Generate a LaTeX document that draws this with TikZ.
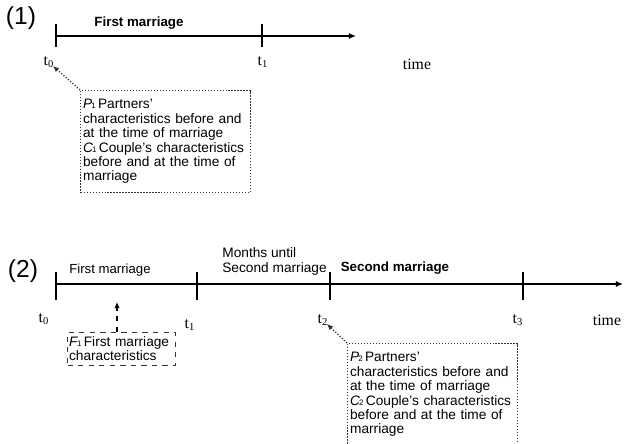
\documentclass[tikz,border=0pt]{standalone}
\usepackage{fontspec}
\setmainfont{Liberation Serif}
\setsansfont{Liberation Sans}
\usetikzlibrary{arrows.meta,positioning,calc}
\newcommand{\tsub}[1]{\textsubscript{#1}}
\newcommand{\vname}[2]{\textit{#1}\kern-0.5pt{\fontsize{4.5}{4.5}\selectfont#2}\,}

\begin{document}
\begin{tikzpicture}[
    x=0.02cm, y=-0.02cm,
    every node/.style={font=\sffamily\fontsize{7.5}{8}\selectfont, inner sep=0pt},
    panel/.style={font=\sffamily\fontsize{14}{16}\selectfont},
    period/.style={font=\sffamily\bfseries\fontsize{7.6}{8}\selectfont},
    tlabel/.style={font=\rmfamily\fontsize{9}{10}\selectfont},
    axis/.style={line width=0.8pt, -{Latex[length=4pt,width=3.5pt]}},
    tick/.style={line width=0.6pt},
    note/.style={draw=black!80, densely dotted, line width=0.7pt, align=left, text width=3.3cm,
                 inner xsep=0.05cm, inner ysep=5pt, anchor=north west,
                 font=\sffamily\fontsize{7.8}{8.2}\selectfont},
    fnote/.style={draw=black!80, dashed, line width=0.6pt, align=left, text width=2.1cm,
                  inner xsep=0.03cm, inner ysep=2.5pt, anchor=north west,
                  font=\sffamily\fontsize{7.8}{8}\selectfont},
    pointer/.style={densely dotted, line width=0.7pt, draw=black!80, -{Latex[length=3.5pt,width=3pt]}},
    fpointer/.style={dashed, line width=0.6pt, -{Latex[length=3.5pt,width=3pt]}}
]
\useasboundingbox (0,0) rectangle (625,443);

% (1) first marriage only
\node[panel] (p1) at (21,18) {(1)};
\coordinate (a1s) at (56,36);
\coordinate (a1t) at (262,36);
\coordinate (a1e) at (356,36);
\draw[axis] (a1s) -- (a1e);
\foreach \c in {a1s,a1t}
  \draw[tick] ($(\c)+(0,-12)$) -- ($(\c)+(0,11)$);
\node[period] (fm1) at (139,23) {First marriage};
\node[tlabel] (t0a) at (49,62) {t\tsub{0}};
\node[tlabel] (t1a) at (263,62) {t\tsub{1}};
\node[tlabel] (time1) at (417,64) {time};

\node[note] (pc1) at (80,90) {\vname{P}{1}Partners'\\
  characteristics before and\\
  at the time of marriage\\
  \vname{C}{1}Couple's characteristics\\
  before and at the time of\\
  marriage};
\draw[pointer] (pc1.north west) -- ([xshift=-1pt,yshift=1pt]t0a.south east);

% (2) first and second marriage
\node[panel] (p2) at (23,271) {(2)};
\coordinate (b0) at (56,284);
\coordinate (b1) at (197,284);
\coordinate (b2) at (330,284);
\coordinate (b3) at (523,284);
\coordinate (be) at (623,284);
\draw[axis] (b0) -- (be);
\foreach \c in {b0,b1,b2,b3}
  \draw[tick] ($(\c)+(0,-12)$) -- ($(\c)+(0,16)$);

\node (fm2) at (110,270) {First marriage};
\node[anchor=west, align=left, font=\sffamily\fontsize{7.8}{8.5}\selectfont] (gap) at (222,261) {Months until\\Second marriage};
\node[period] (sm2) at (395,268) {Second marriage};

\node[tlabel] (t0b) at (44,319) {t\tsub{0}};
\node[tlabel] (t1b) at (190,325) {t\tsub{1}};
\node[tlabel] (t2b) at (323,320) {t\tsub{2}};
\node[tlabel] (t3b) at (518,320) {t\tsub{3}};
\node[tlabel] (time2) at (607,320) {time};

\node[fnote] (fc) at (67,332) {\vname{F}{1}First marriage\\characteristics};
\coordinate (ftip) at (117,302);
\draw[fpointer] (fc.north -| ftip) -- (ftip);

\node[note] (pc2) at (347,343) {\vname{P}{2}Partners'\\
  characteristics before and\\
  at the time of marriage\\
  \vname{C}{2}Couple's characteristics\\
  before and at the time of\\
  marriage};
\draw[pointer] (pc2.north west) -- ([xshift=-1pt,yshift=1pt]t2b.south east);

\end{tikzpicture}
\end{document}
